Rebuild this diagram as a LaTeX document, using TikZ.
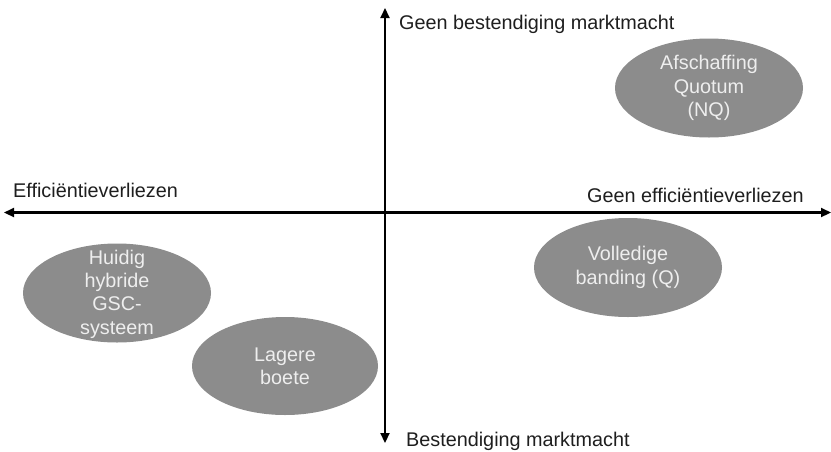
\documentclass[tikz,border=0pt]{standalone}
\usepackage{fontspec}
\setmainfont{Liberation Sans}
\usetikzlibrary{arrows.meta,shapes.geometric}
\definecolor{blobgray}{HTML}{8C8C8C}
\definecolor{blobtxt}{HTML}{EEEEEE}
\definecolor{labtxt}{HTML}{1E1E1E}
\begin{document}
\begin{tikzpicture}[x=1pt,y=-1pt,
  axis/.style={line width=2.2pt,draw=black,{Triangle[length=10pt,width=9pt]}-{Triangle[length=10pt,width=9pt]}},
  blob/.style={ellipse,fill=blobgray,draw=none,inner sep=0pt},
  blobtext/.style={text=blobtxt,align=center,inner sep=0pt,font=\fontsize{19.8}{23.3}\selectfont},
  axlabel/.style={text=labtxt,inner sep=0pt,anchor=base west,font=\fontsize{19.8}{23.3}\selectfont}]
\useasboundingbox (0,0) rectangle (831,451);
% axes
\coordinate (L) at (4,212.5);
\coordinate (R) at (831,212.5);
\coordinate (T) at (385,8);
\coordinate (B) at (385,443);
\draw[axis] (L) -- (R);
\draw[axis] (T) -- (B);
% axis labels
\node[axlabel] (top) at (399,29.5) {Geen bestendiging marktmacht};
\node[axlabel] (left) at (13,197) {Efficiëntieverliezen};
\node[axlabel] (right) at (587,202) {Geen efficiëntieverliezen};
\node[axlabel] (bottom) at (406,446.5) {Bestendiging marktmacht};
% ellipses
\node[blob,minimum width=188pt,minimum height=99pt] (nq) at (709,88) {};
\node[blobtext] (nqt) at (nq) {Afschaffing\\Quotum\\(NQ)};
\node[blob,minimum width=188pt,minimum height=99pt] (q) at (628,267.5) {};
\node[blobtext] (qt) at (q) {Volledige\\banding (Q)};
\node[blob,minimum width=188pt,minimum height=99pt] (gsc) at (117,293) {};
\node[blobtext] (gsct) at ([yshift=-1pt]gsc) {Huidig\\hybride\\GSC-\\systeem};
\node[blob,minimum width=186pt,minimum height=98pt] (boete) at (285,366) {};
\node[blobtext] (boetet) at (boete) {Lagere\\boete};
\end{tikzpicture}
\end{document}
